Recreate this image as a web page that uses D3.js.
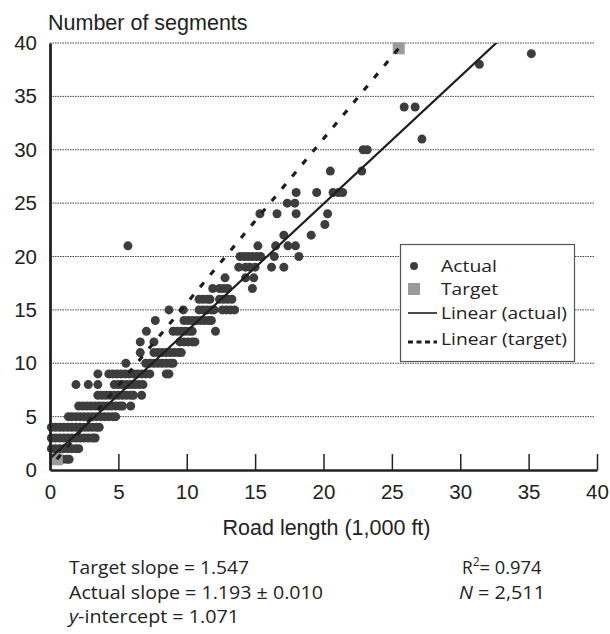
<!DOCTYPE html>
<html><head><meta charset="utf-8">
<script src="https://cdn.jsdelivr.net/npm/d3@7"></script>
<style>
html,body{margin:0;padding:0;background:#fff;}
svg{display:block;}
</style></head>
<body>
<svg id="chart" width="610" height="634"></svg>
<script>
// ---- data ----
const xTicks = [0, 5, 10, 15, 20, 25, 30, 35, 40];
const yTicks = [0, 5, 10, 15, 20, 25, 30, 35, 40];
// number of segments (y) and the road lengths (1,000 ft) of the points at that level
const actualSegments = [1, 2, 3, 4, 5, 6, 7, 8, 9, 10, 11, 12, 13, 14, 15, 16, 17, 18, 19, 20, 21, 22, 23, 24, 25, 26, 28, 30, 31, 34, 38, 39];
const actualLengths = [
  [0.3, 0.6, 0.9, 1.2, 1.4],
  [0.1, 0.4, 0.7, 1.0, 1.3, 1.6, 1.9, 2.1],
  [0.1, 0.4, 0.7, 1.0, 1.3, 1.6, 1.9, 2.2, 2.5, 2.8, 3.1, 3.3],
  [0.1, 0.4, 0.7, 1.0, 1.3, 1.6, 1.9, 2.2, 2.5, 2.8, 3.1, 3.4, 3.6],
  [1.35, 1.6, 1.9, 2.2, 2.5, 2.8, 3.1, 3.4, 3.7, 4.0, 4.3, 4.6, 4.8],
  [2.1, 2.4, 2.7, 3.0, 3.3, 3.6, 3.9, 4.2, 4.5, 4.8, 5.1, 5.3, 5.9],
  [3.5, 3.8, 4.1, 4.4, 4.7, 5.0, 5.3, 5.6, 5.9, 6.1, 6.7],
  [1.9, 2.8, 3.5, 4.7, 5.0, 5.3, 5.6, 5.9, 6.2, 6.5, 6.8],
  [3.5, 4.3, 4.6, 4.9, 5.2, 5.5, 5.8, 6.1, 6.4, 6.7, 7.0, 7.3, 8.5, 8.7],
  [5.55, 7.0, 7.3, 7.6, 7.9, 8.2, 8.5, 8.8, 9.0],
  [6.6, 7.6, 7.9, 8.2, 8.5, 8.8, 9.1, 9.4, 9.6],
  [6.6, 7.6, 9.5, 9.8, 10.1, 10.4, 10.6],
  [7.05, 9.0, 9.3, 9.6, 9.9, 10.2, 10.4, 12.1],
  [7.7, 9.8, 10.1, 10.4, 10.7, 11.0, 11.3, 11.6, 11.8],
  [8.7, 9.75, 10.9, 11.2, 11.5, 11.8, 12.0, 12.6, 12.9, 13.2, 13.5],
  [10.9, 11.2, 11.5, 11.7, 12.4, 12.7, 13.0, 13.3],
  [11.9, 12.4, 12.7, 13.0, 14.8],
  [12.8, 14.3, 14.9],
  [13.8, 14.3, 14.6, 15.0, 16.2, 17.1],
  [13.9, 14.2, 14.5, 14.8, 15.1, 15.4, 16.4, 18.2],
  [5.7, 15.2, 16.5, 17.4, 17.95],
  [17.1, 19.1],
  [20.1],
  [15.35, 16.6, 18.0, 20.3],
  [17.35, 17.9],
  [18.0, 19.5, 20.7, 21.1, 21.4],
  [20.5, 22.8],
  [22.9, 23.2],
  [27.2],
  [25.9, 26.7],
  [31.4],
  [35.2]
];
const targetLengths = [0.5, 25.5];
const targetSegments = [1, 39.5];
const actualSlope = 1.193;
const actualIntercept = 1.071;
const legendLabels = ["Actual", "Target", "Linear (actual)", "Linear (target)"];

// ---- layout ----
const svg = d3.select("#chart");
const L = 50, R = 597, T = 43, B = 470;
const x = d3.scaleLinear().domain([0, 40]).range([L, R]);
const y = d3.scaleLinear().domain([0, 40]).range([B, T]);
const axisFont = "'Liberation Sans', Arial, Helvetica, sans-serif";
const textFont = "'Open Sans', 'Noto Sans', sans-serif";
const dotColor = "#3d3d3d";
const targetColor = "#9b9b9b";

svg.append("defs").append("clipPath").attr("id", "plotclip")
  .append("rect").attr("x", L).attr("y", T).attr("width", R - L + 2).attr("height", B - T);

// gridlines
svg.append("g").selectAll("line")
  .data(yTicks.filter(d => d > 0))
  .join("line")
  .attr("x1", L).attr("x2", R - 2)
  .attr("y1", d => y(d)).attr("y2", d => y(d))
  .attr("stroke", "#444").attr("stroke-width", 1)
  .attr("stroke-dasharray", "1.5,1");

// points
const points = [];
actualSegments.forEach((s, i) => actualLengths[i].forEach(l => points.push({ x: l, y: s })));
svg.append("g").selectAll("circle")
  .data(points)
  .join("circle")
  .attr("cx", d => x(d.x)).attr("cy", d => y(d.y)).attr("r", 4.5)
  .attr("fill", dotColor);

// target squares
const tsize = 12;
svg.append("g").selectAll("rect")
  .data(targetLengths.map((l, i) => ({ x: l, y: targetSegments[i] })))
  .join("rect")
  .attr("x", d => x(d.x) - tsize / 2).attr("y", d => y(d.y) - tsize / 2)
  .attr("width", tsize).attr("height", tsize)
  .attr("fill", targetColor);

// trendlines
const plot = svg.append("g").attr("clip-path", "url(#plotclip)");
const xmax = d3.max(points, d => d.x);
plot.append("line")
  .attr("x1", x(0)).attr("y1", y(actualIntercept))
  .attr("x2", x(xmax)).attr("y2", y(actualSlope * xmax + actualIntercept))
  .attr("stroke", "#1e1e1e").attr("stroke-width", 2.2);
plot.append("line")
  .attr("x1", x(targetLengths[0])).attr("y1", y(targetSegments[0]))
  .attr("x2", x(targetLengths[1])).attr("y2", y(targetSegments[1]))
  .attr("stroke", "#1e1e1e").attr("stroke-width", 3.2)
  .attr("stroke-dasharray", "6,10");

// axes
const xAxis = svg.append("g").attr("transform", `translate(0,${B})`)
  .call(d3.axisBottom(x).tickValues(xTicks).tickFormat(d3.format("d")).tickSizeInner(-16).tickSizeOuter(0).tickPadding(14));
xAxis.select(".domain").attr("stroke", "#222").attr("stroke-width", 2.5);
xAxis.selectAll(".tick line").attr("stroke", "#222").attr("stroke-width", 1.5);
xAxis.selectAll(".tick text").attr("font-family", axisFont).attr("font-size", 20.5).attr("fill", "#222");

const yAxis = svg.append("g").attr("transform", `translate(${L},0)`)
  .call(d3.axisLeft(y).tickValues(yTicks).tickFormat(d3.format("d")).tickSize(0).tickPadding(13));
yAxis.select(".domain").attr("stroke", "#222").attr("stroke-width", 2.8);
yAxis.selectAll(".tick text").attr("font-family", axisFont).attr("font-size", 20.5).attr("fill", "#222");

// axis titles
svg.append("text").attr("x", 48).attr("y", 30)
  .attr("font-family", axisFont).attr("font-size", 21.5).attr("fill", "#222")
  .text("Number of segments");
svg.append("text").attr("x", 326.5).attr("y", 535).attr("text-anchor", "middle")
  .attr("font-family", axisFont).attr("font-size", 21.5).attr("fill", "#222")
  .text("Road length (1,000 ft)");

// legend
const lg = svg.append("g");
lg.append("rect").attr("x", 400.5).attr("y", 244.5).attr("width", 174).attr("height", 117)
  .attr("fill", "#fff").attr("stroke", "#555").attr("stroke-width", 1.2);
const rowY = [266, 289, 313, 339];
const legendWidths = [56, 57, 126, 126];
lg.append("circle").attr("cx", 414).attr("cy", rowY[0]).attr("r", 4).attr("fill", dotColor);
lg.append("rect").attr("x", 408).attr("y", rowY[1] - 6).attr("width", 12).attr("height", 12).attr("fill", targetColor);
lg.append("line").attr("x1", 408).attr("x2", 437).attr("y1", rowY[2]).attr("y2", rowY[2])
  .attr("stroke", "#1e1e1e").attr("stroke-width", 1.6);
lg.append("line").attr("x1", 408).attr("x2", 437).attr("y1", rowY[3] + 3).attr("y2", rowY[3] + 3)
  .attr("stroke", "#1e1e1e").attr("stroke-width", 3).attr("stroke-dasharray", "5,3.5");
lg.selectAll("text.lt").data(legendLabels).join("text").attr("class", "lt")
  .attr("x", 441).attr("y", (d, i) => rowY[i]).attr("dy", "0.35em")
  .attr("font-family", textFont).attr("font-size", 16.3).attr("fill", "#222")
  .attr("textLength", (d, i) => legendWidths[i]).attr("lengthAdjust", "spacingAndGlyphs")
  .text(d => d);

// statistics
const st = svg.append("g").attr("font-family", textFont).attr("font-size", 17.3).attr("fill", "#222");
st.append("text").attr("x", 69).attr("y", 574)
  .attr("textLength", 180).attr("lengthAdjust", "spacingAndGlyphs").text("Target slope = 1.547");
st.append("text").attr("x", 69).attr("y", 598.5)
  .attr("textLength", 254).attr("lengthAdjust", "spacingAndGlyphs").text("Actual slope = 1.193 \u00b1 0.010");
const yi = st.append("text").attr("x", 69).attr("y", 623)
  .attr("textLength", 170).attr("lengthAdjust", "spacingAndGlyphs");
yi.append("tspan").attr("font-style", "italic").text("y");
yi.append("tspan").text("-intercept = 1.071");
const r2 = st.append("text").attr("x", 462).attr("y", 574);
r2.append("tspan").text("R");
r2.append("tspan").attr("dy", -8).attr("font-size", 12).text("2");
r2.append("tspan").attr("dy", 8).attr("textLength", 62).attr("lengthAdjust", "spacingAndGlyphs").text("= 0.974");
const nn = st.append("text").attr("x", 459).attr("y", 598.5)
  .attr("textLength", 86).attr("lengthAdjust", "spacingAndGlyphs");
nn.append("tspan").attr("font-style", "italic").text("N");
nn.append("tspan").text(" = 2,511");
</script>
</body></html>
